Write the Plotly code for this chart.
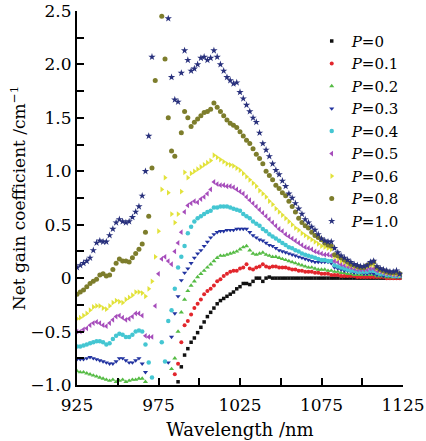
import numpy as np
import plotly.graph_objects as go

# wavelength grid (nm), 2 nm steps from 925 to 1123
wavelength = list(range(925, 1125, 2))

N = None
p00 = [N, N, N, N, N, N, N, N, N, N,
       N, N, N, N, N, N, N, N, N, N,
       N, N, N, N, N, N, N, N, N, N,
       N, -0.97, -0.83, -0.72, -0.66, -0.60, -0.56, -0.51, -0.46, -0.41,
       -0.36, -0.32, -0.28, -0.24, -0.21, -0.19, -0.17, -0.15, -0.13, -0.10,
       -0.08, -0.05, -0.05, -0.06, -0.03, 0.00, 0.00, -0.03, 0.00, 0.01,
       0.0, 0.0, 0.0, 0.0, 0.0, 0.0, 0.0, 0.0, 0.0, 0.0,
       0.0, 0.0, 0.0, 0.0, 0.0, 0.0, 0.0, 0.0, 0.0, 0.0,
       0.0, 0.0, 0.0, 0.0, 0.0, 0.0, 0.0, 0.0, 0.0, 0.0,
       0.0, 0.0, 0.0, 0.0, 0.0, 0.0, 0.0, 0.0, 0.0, 0.0]
p01 = [N, N, N, N, N, N, N, N, N, N,
       N, N, N, N, N, N, N, N, N, N,
       N, N, N, N, N, N, N, N, N, N,
       -0.90, -0.80, -0.60, -0.44, -0.40, -0.34, -0.28, -0.24, -0.20, -0.15,
       -0.12, -0.10, -0.07, -0.03, -0.01, 0.02, 0.04, 0.06, 0.07, 0.07,
       0.09, 0.10, 0.13, 0.09, 0.08, 0.10, 0.11, 0.13, 0.11, 0.10,
       0.11, 0.11, 0.10, 0.10, 0.10, 0.09, 0.08, 0.08, 0.07, 0.07,
       0.06, 0.06, 0.06, 0.05, 0.05, 0.04, 0.04, 0.04, 0.03, 0.03,
       0.03, 0.02, 0.02, 0.02, 0.02, 0.02, 0.01, 0.01, 0.01, 0.01,
       0.01, 0.01, 0.01, 0.01, 0.01, 0.0, 0.0, 0.0, 0.0, 0.0]
p02 = [-0.87, -0.88, -0.88, -0.89, -0.90, -0.91, -0.92, -0.93, -0.94, -0.95,
       -0.96, -0.95, -0.97, -0.96, -0.95, -0.97, -0.96, -0.95, -0.95, -0.94,
       -0.94, -0.97, N, N, N, N, N, N, N, -0.85,
       -0.75, -0.50, -0.32, -0.20, -0.12, -0.07, -0.03, 0.01, 0.04, 0.07,
       0.10, 0.13, 0.16, 0.19, 0.21, 0.21, 0.22, 0.23, 0.24, 0.25,
       0.27, 0.29, 0.30, 0.26, 0.23, 0.22, 0.23, 0.24, 0.22, 0.21,
       0.20, 0.20, 0.19, 0.18, 0.17, 0.16, 0.15, 0.14, 0.13, 0.12,
       0.11, 0.10, 0.10, 0.09, 0.08, 0.08, 0.08, 0.07, 0.07, 0.06,
       0.06, 0.05, 0.05, 0.04, 0.04, 0.03, 0.03, 0.03, 0.03, 0.03,
       0.03, 0.03, 0.02, 0.02, 0.02, 0.01, 0.01, 0.01, 0.01, 0.01]
p03 = [-0.76, -0.76, -0.76, -0.75, -0.74, -0.75, -0.76, -0.77, -0.78, -0.79,
       -0.80, -0.80, -0.78, -0.75, -0.75, -0.77, -0.79, -0.79, -0.77, -0.75,
       -0.80, -0.88, N, N, N, N, N, N, -0.79, -0.55,
       -0.33, -0.17, -0.02, 0.05, 0.09, 0.14, 0.19, 0.23, 0.26, 0.30,
       0.34, 0.38, 0.41, 0.43, 0.44, 0.44, 0.45, 0.45, 0.45, 0.46,
       0.46, 0.46, 0.46, 0.43, 0.40, 0.38, 0.36, 0.35, 0.33, 0.31,
       0.30, 0.28, 0.26, 0.25, 0.24, 0.23, 0.22, 0.21, 0.20, 0.19,
       0.18, 0.17, 0.16, 0.15, 0.15, 0.15, 0.15, 0.15, 0.14, 0.10,
       0.09, 0.08, 0.07, 0.07, 0.06, 0.05, 0.05, 0.05, 0.04, 0.04,
       0.05, 0.04, 0.03, 0.03, 0.02, 0.02, 0.02, 0.02, 0.01, 0.01]
p04 = [-0.64, -0.64, -0.63, -0.62, -0.61, -0.60, -0.59, -0.59, -0.60, -0.62,
       -0.61, -0.57, -0.54, -0.52, -0.53, -0.55, -0.55, -0.53, -0.50, -0.49,
       -0.50, -0.62, -0.79, -0.93, N, N, -0.60, -0.78, -0.40, -0.30,
       -0.10, 0.10, 0.20, 0.30, 0.42, 0.48, 0.53, 0.56, 0.58, 0.60,
       0.62, 0.63, 0.66, 0.66, 0.67, 0.67, 0.67, 0.66, 0.65, 0.64,
       0.63, 0.60, 0.58, 0.56, 0.53, 0.51, 0.49, 0.46, 0.44, 0.41,
       0.39, 0.37, 0.35, 0.33, 0.31, 0.29, 0.28, 0.26, 0.25, 0.23,
       0.22, 0.21, 0.20, 0.19, 0.18, 0.17, 0.17, 0.16, 0.16, 0.12,
       0.11, 0.10, 0.09, 0.08, 0.07, 0.07, 0.06, 0.06, 0.06, 0.06,
       0.07, 0.07, 0.05, 0.04, 0.04, 0.03, 0.03, 0.02, 0.02, 0.02]
p05 = [-0.50, -0.50, -0.48, -0.47, -0.44, -0.42, -0.41, -0.42, -0.44, -0.45,
       -0.42, -0.39, -0.36, -0.35, -0.37, -0.39, -0.38, -0.36, -0.33, -0.33,
       -0.35, -0.54, -0.55, -0.55, -0.26, 0.04, 0.18, 0.20, 0.16, 0.13,
       0.25, 0.33, 0.43, 0.62, 0.68, 0.70, 0.72, 0.71, 0.74, 0.76,
       0.79, 0.83, 0.90, 0.88, 0.87, 0.87, 0.86, 0.86, 0.85, 0.83,
       0.81, 0.79, 0.76, 0.73, 0.70, 0.67, 0.64, 0.61, 0.58, 0.55,
       0.52, 0.49, 0.46, 0.44, 0.41, 0.39, 0.37, 0.35, 0.33, 0.31,
       0.29, 0.28, 0.27, 0.25, 0.24, 0.23, 0.22, 0.22, 0.21, 0.16,
       0.15, 0.13, 0.12, 0.11, 0.10, 0.09, 0.08, 0.08, 0.08, 0.08,
       0.09, 0.09, 0.07, 0.06, 0.05, 0.04, 0.04, 0.03, 0.03, 0.03]
p06 = [-0.38, -0.37, -0.35, -0.33, -0.30, -0.27, -0.26, -0.26, -0.28, -0.29,
       -0.26, -0.23, -0.21, -0.22, -0.23, -0.20, -0.18, -0.16, -0.13, -0.13,
       -0.14, -0.17, -0.10, -0.03, 0.20, 0.44, 0.83, 0.94, 0.80, 0.60,
       0.52, 0.60, 0.81, 0.99, 0.94, 0.98, 1.00, 1.02, 1.04, 1.06,
       1.08, 1.10, 1.15, 1.13, 1.11, 1.09, 1.07, 1.06, 1.05, 1.03,
       1.01, 0.98, 0.95, 0.92, 0.89, 0.86, 0.82, 0.79, 0.76, 0.72,
       0.69, 0.65, 0.62, 0.59, 0.56, 0.53, 0.50, 0.47, 0.45, 0.42,
       0.40, 0.38, 0.36, 0.34, 0.32, 0.30, 0.29, 0.28, 0.27, 0.20,
       0.18, 0.16, 0.15, 0.13, 0.12, 0.11, 0.10, 0.10, 0.10, 0.11,
       0.12, 0.12, 0.09, 0.07, 0.06, 0.05, 0.05, 0.04, 0.04, 0.03]
p08 = [-0.15, -0.13, -0.11, -0.08, -0.05, -0.03, -0.01, 0.03, 0.04, 0.02,
       0.03, 0.08, 0.14, 0.18, 0.16, 0.16, 0.15, 0.19, 0.23, 0.27,
       0.32, 0.43, 0.58, 1.03, 1.85, N, 2.45, 2.05, 1.50, 1.19,
       1.14, N, 1.36, 1.56, 1.50, 1.42, 1.46, 1.49, 1.52, 1.55,
       1.56, 1.58, 1.64, 1.60, 1.56, 1.52, 1.48, 1.45, 1.43, 1.41,
       1.37, 1.33, 1.29, 1.26, 1.21, 1.16, 1.12, 1.07, 1.00, 0.96,
       0.92, 0.87, 0.84, 0.80, 0.77, 0.72, 0.67, 0.62, 0.56, 0.52,
       0.49, 0.47, 0.43, 0.40, 0.38, 0.36, 0.33, 0.31, 0.30, 0.22,
       0.21, 0.19, 0.17, 0.15, 0.13, 0.12, 0.11, 0.10, 0.10, 0.12,
       0.14, 0.15, 0.10, 0.08, 0.07, 0.06, 0.05, 0.05, 0.05, 0.04]
p10 = [0.10, 0.12, 0.14, 0.16, 0.19, 0.26, 0.33, 0.35, 0.34, 0.34,
       0.40, 0.46, 0.52, 0.55, 0.53, 0.52, 0.53, 0.57, 0.62, 0.67,
       0.77, 1.00, 1.33, 2.07, N, N, N, N, 2.43, 1.88,
       1.67, 1.65, 1.92, 2.13, 2.04, 1.94, 1.96, 2.00, 2.06, 2.07,
       2.04, 2.06, 2.13, 2.07, 2.00, 1.94, 1.88, 1.85, 1.82, 1.83,
       1.74, 1.68, 1.62, 1.56, 1.50, 1.46, 1.36, 1.26, 1.20, 1.14,
       1.07, 1.01, 0.97, 0.91, 0.86, 0.79, 0.75, 0.70, 0.65, 0.60,
       0.55, 0.52, 0.48, 0.45, 0.41, 0.37, 0.35, 0.34, 0.34, 0.28,
       0.24, 0.21, 0.19, 0.17, 0.15, 0.13, 0.12, 0.11, 0.11, 0.12,
       0.15, 0.16, 0.11, 0.09, 0.08, 0.07, 0.06, 0.06, 0.07, 0.04]

series_names = ["0", "0.1", "0.2", "0.3", "0.4", "0.5", "0.6", "0.8", "1.0"]
series_values = [p00, p01, p02, p03, p04, p05, p06, p08, p10]
colors = ["#111111", "#e2262c", "#55bb44", "#2233a0", "#44c6d2",
          "#a64dbb", "#e2e23a", "#7d7d2c", "#28307c"]
symbols = ["square", "circle", "triangle-up", "triangle-down", "circle",
           "triangle-left", "triangle-right", "circle", "star"]
sizes = [3.5, 4, 4.5, 4.5, 4.5, 5, 5, 5, 5.5]

x_ticks = [925, 975, 1025, 1075, 1125]
y_tickvals = [-1.0, -0.5, 0, 0.5, 1.0, 1.5, 2.0, 2.5]
y_ticktext = ["\u22121.0", "\u22120.5", "0", "0.5", "1.0", "1.5", "2.0", "2.5"]

FONT = "DejaVu Serif"

fig = go.Figure()
for name, vals, c, s, sz in zip(series_names, series_values, colors, symbols, sizes):
    fig.add_trace(go.Scatter(
        x=wavelength, y=vals, mode="markers", name=f"<i>P</i>={name}",
        marker=dict(color=c, symbol=s, size=sz, line=dict(width=0)),
    ))

fig.update_layout(
    width=426, height=441,
    margin=dict(l=77, r=23, t=11, b=56, autoexpand=False),
    plot_bgcolor="white", paper_bgcolor="white",
    font=dict(family=FONT, size=16, color="black"),
    showlegend=True,
    legend=dict(x=0.72, y=0.963, xanchor="left", yanchor="top",
                bgcolor="rgba(0,0,0,0)", font=dict(family=FONT, size=15),
                itemsizing="trace", tracegroupgap=0),
)
fig.update_xaxes(
    range=[925, 1125], tickvals=x_ticks, ticktext=[str(v) for v in x_ticks],
    ticks="inside", ticklen=7, tickwidth=2, tickcolor="black",
    minor=dict(dtick=25, tick0=925, ticks="inside", ticklen=7, tickwidth=2, tickcolor="black"),
    showline=True, linecolor="black", linewidth=2, mirror=False,
    showgrid=False, zeroline=False, automargin=False, ticklabelstandoff=4,
    title=dict(text="Wavelength /nm", font=dict(family=FONT, size=18), standoff=9),
    tickfont=dict(family=FONT, size=17),
)
fig.update_yaxes(
    range=[-1.0, 2.5], tickvals=y_tickvals, ticktext=y_ticktext,
    ticks="inside", ticklen=7, tickwidth=2, tickcolor="black",
    minor=dict(dtick=0.25, tick0=0, ticks="inside", ticklen=7, tickwidth=2, tickcolor="black"),
    showline=True, linecolor="black", linewidth=2, mirror=False,
    showgrid=False, zeroline=False, automargin=False,
    title=dict(text="Net gain coefficient /cm<sup>\u22121</sup>", font=dict(family=FONT, size=17), standoff=0),
    tickfont=dict(family=FONT, size=17),
)

# remove the browser's default 8px body margin so the figure fills the window
fig.write_html("out.html", config={"displayModeBar": False},
               post_script="document.body.style.margin='0px';document.body.style.padding='0px';")
